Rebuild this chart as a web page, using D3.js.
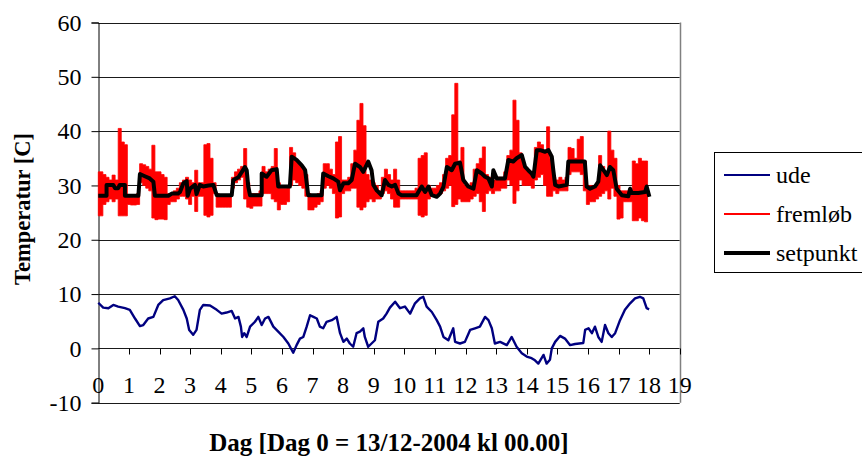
<!DOCTYPE html>
<html><head><meta charset="utf-8">
<script src="https://cdn.jsdelivr.net/npm/d3@7"></script>
<style>body{margin:0;background:#fff}svg{display:block}text{font-family:"Liberation Serif","Times New Roman",serif;fill:#000}</style>
</head><body><svg id="c" width="862" height="457"></svg>
<script>
// ---------- data ----------
const yTicks = [-10, 0, 10, 20, 30, 40, 50, 60];
const xTicks = [0,1,2,3,4,5,6,7,8,9,10,11,12,13,14,15,16,17,18,19];
const seriesNames = ["ude", "fremløb", "setpunkt"];

// ude (outdoor temperature)
const udeDays = [0,0.16,0.33,0.49,0.65,0.87,1.03,1.2,1.36,1.47,1.63,1.8,1.96,2.12,2.34,2.5,2.61,2.78,2.89,2.97,3.1,3.21,3.32,3.43,3.65,3.87,4.03,4.19,4.36,4.47,4.58,4.66,4.7,4.77,4.85,4.96,5.12,5.23,5.34,5.45,5.56,5.72,5.88,6.05,6.21,6.37,6.48,6.59,6.7,6.81,6.92,7.03,7.14,7.24,7.35,7.46,7.63,7.79,7.9,8.01,8.12,8.22,8.33,8.44,8.55,8.66,8.71,8.82,8.93,9.04,9.15,9.31,9.42,9.53,9.7,9.86,10.02,10.19,10.35,10.51,10.62,10.73,10.9,11.06,11.17,11.28,11.44,11.6,11.66,11.82,11.98,12.15,12.31,12.47,12.64,12.75,12.86,12.96,13.13,13.35,13.51,13.67,13.84,14.0,14.16,14.27,14.38,14.55,14.65,14.76,14.82,14.93,15.09,15.25,15.42,15.58,15.85,15.91,16.02,16.13,16.23,16.34,16.45,16.56,16.67,16.78,16.89,17.05,17.21,17.38,17.54,17.7,17.81,17.92,18.0];
const udeVals = [8.4,7.5,7.4,8.0,7.7,7.4,7.1,5.5,4.1,4.3,5.5,5.8,8.0,8.9,9.2,9.6,8.9,7.1,5.5,3.4,2.5,3.4,7.1,8.0,7.9,7.1,6.4,6.6,6.9,5.5,5.8,4.0,2.1,2.8,2.1,4.0,4.9,5.8,4.3,5.5,5.8,4.0,3.1,2.1,0.9,-0.8,0.6,1.8,2.1,4.0,6.1,5.8,5.5,4.0,3.7,4.9,5.2,5.8,2.8,1.2,1.8,0.9,0.3,2.8,3.1,3.7,2.1,0.3,0.9,1.5,4.9,5.5,6.4,7.5,8.6,7.4,7.7,6.4,8.3,9.2,9.5,7.7,6.7,5.2,4.0,2.1,1.5,3.7,1.2,0.9,1.2,3.4,3.7,4.0,5.8,5.2,3.7,0.9,1.2,0.6,2.1,0.3,-0.9,-1.5,-1.8,-2.2,-2.8,-1.2,-2.8,-2.1,0.0,1.2,2.3,1.8,0.6,0.8,1.0,3.4,3.7,2.8,4.0,2.1,1.2,4.3,2.8,2.1,2.8,5.2,7.1,8.3,9.2,9.5,9.2,7.4,7.2];

// fremløb (supply temperature): low / high reading for every 0.1 day, from day 0 to day 18
const fremStep = 0.1;
const fremLo = [24.4,24.4,26.5,27.0,27.5,27.0,27.5,24.4,24.4,24.4,
26.5,26.4,26.4,26.5,30.5,30.0,29.5,29.0,24.0,23.7,
23.8,23.8,23.7,26.5,27.0,27.0,27.5,28.0,28.0,27.5,
26.5,28.0,25.2,28.0,28.0,24.5,24.2,24.5,28.5,26.0,
26.0,26.0,26.0,26.0,29.5,30.5,31.0,31.5,27.5,26.0,
25.8,26.2,26.2,26.2,28.5,28.5,28.5,27.5,27.0,25.5,
26.5,26.5,27.0,30.0,31.0,30.5,30.0,29.5,28.0,25.5,
25.5,26.0,26.5,27.0,29.5,30.0,29.5,28.5,24.0,24.2,
28.5,29.0,29.0,29.5,29.5,26.0,25.5,26.0,27.0,27.5,
27.0,27.5,27.5,28.5,29.0,28.5,27.5,26.0,26.0,27.5,
27.5,27.5,27.5,27.5,27.5,24.5,24.2,24.5,27.5,28.0,
28.0,28.0,28.5,29.0,29.5,30.0,26.1,26.5,27.5,27.0,
27.0,27.0,27.5,28.0,28.5,27.0,25.2,28.5,29.0,28.5,
29.0,29.0,29.5,29.5,31.0,30.0,26.7,29.0,31.0,30.0,
30.0,30.0,29.5,31.0,31.5,32.0,30.0,28.0,28.0,29.0,
28.5,29.0,29.0,29.0,32.0,32.5,32.5,32.5,32.0,29.0,
26.5,27.0,27.0,27.5,28.0,28.5,29.0,27.5,29.5,28.0,
23.8,24.0,27.0,27.0,27.0,23.5,23.5,24.0,23.5,23.3,
28.0];
const fremHi = [32.5,32.5,32.0,31.5,31.0,31.9,31.0,40.5,38.0,37.5,
28.0,27.8,27.8,28.5,34.0,33.8,33.5,33.0,37.4,32.5,
32.5,32.0,31.5,28.5,28.5,29.0,29.5,30.5,31.0,31.5,
31.0,30.5,32.8,30.5,30.5,37.5,37.7,35.0,30.5,28.5,
28.0,28.0,28.0,28.0,31.5,32.5,33.0,33.5,36.8,30.5,
28.5,28.5,28.5,29.0,33.5,32.5,33.0,33.5,36.8,30.5,
29.5,29.5,30.0,37.0,36.0,34.5,34.0,33.0,32.0,28.5,
28.0,28.0,28.5,29.0,34.0,34.0,33.0,32.0,38.0,39.0,
31.0,31.0,31.5,34.0,36.5,42.0,45.1,41.0,32.0,31.0,
30.5,30.0,29.0,31.5,33.0,32.0,31.0,33.0,31.0,29.0,
29.0,29.0,29.0,29.0,29.5,35.0,35.5,36.0,30.0,29.5,
29.5,30.0,30.5,32.0,35.0,35.5,43.0,48.8,34.5,37.0,
30.0,30.0,30.5,33.0,34.0,35.0,37.1,32.0,31.5,31.0,
31.0,31.5,31.5,32.5,35.5,36.5,45.7,42.0,36.0,34.0,
33.0,32.5,32.5,37.0,38.0,37.5,36.5,40.8,35.0,31.5,
31.0,31.5,31.0,31.5,37.0,36.8,35.0,38.5,39.0,34.5,
30.0,30.0,30.0,30.0,35.5,33.5,32.0,40.0,36.5,35.0,
30.0,29.0,29.0,29.0,28.5,34.5,34.0,35.0,34.5,34.5,
29.0];

// setpunkt (set point)
const setDays = [0,0.27,0.27,0.49,0.55,0.65,0.7,0.87,0.87,1.31,1.36,1.52,1.68,1.8,1.85,2.29,2.4,2.61,2.67,2.78,2.89,2.92,3.0,3.16,3.21,3.32,3.43,3.6,3.76,3.87,4.36,4.41,4.58,4.75,4.79,4.85,4.9,4.96,5.34,5.34,5.5,5.66,5.83,5.88,6.26,6.32,6.48,6.65,6.76,6.86,7.3,7.35,7.52,7.68,7.84,7.9,8.01,8.17,8.28,8.39,8.55,8.66,8.82,8.93,8.99,9.1,9.26,9.37,9.48,9.59,9.7,9.81,9.91,10.4,10.46,10.57,10.68,10.79,10.9,11.06,11.17,11.28,11.39,11.55,11.66,11.82,11.93,12.09,12.26,12.37,12.53,12.64,12.75,12.86,12.91,13.02,13.29,13.4,13.56,13.67,13.84,13.95,14.05,14.16,14.22,14.33,14.44,14.6,14.71,14.82,14.87,14.93,15.04,15.31,15.36,15.9,15.96,16.07,16.23,16.34,16.4,16.51,16.62,16.72,16.83,16.94,17.11,17.32,17.38,17.43,17.65,17.87,17.92,18.01];
const setVals = [28.1,28.1,30.1,30.1,29.5,29.5,30.1,30.1,28.1,28.1,32.1,31.7,31.3,30.7,28.1,28.1,28.5,28.5,28.8,30.4,30.8,28.1,29.4,30.1,28.4,30.1,29.8,30.0,30.1,28.2,28.2,31.0,31.5,33.0,33.4,32.8,29.8,28.2,28.2,32.2,31.6,32.8,33.0,29.8,29.8,35.3,34.7,33.7,32.8,28.2,28.2,32.2,31.7,31.3,30.7,29.1,30.4,30.4,31.0,34.0,33.4,32.5,34.4,32.8,30.1,29.1,28.2,31.0,30.1,29.8,30.1,28.5,28.2,28.2,28.8,29.8,28.8,29.8,28.2,27.9,28.5,29.8,33.4,32.8,34.0,34.2,31.0,29.8,29.4,32.8,32.2,31.6,31.3,29.8,32.8,31.3,31.3,34.7,34.4,35.0,35.6,33.4,32.8,32.2,31.6,36.5,36.5,36.2,36.5,35.3,32.8,30.1,29.8,30.1,34.4,34.4,29.8,29.4,29.8,30.7,33.7,32.8,31.9,33.4,32.8,29.4,28.2,28.0,29.4,28.6,28.6,28.8,29.8,27.9];

const xTitle = "Dag [Dag 0 = 13/12-2004 kl 00.00]";
const yTitle = "Temperatur [C]";

// ---------- drawing ----------
const svg = d3.select("#c");
const x = d3.scaleLinear().domain([0, 19]).range([98.3, 679.7]);
const y = d3.scaleLinear().domain([-10, 60]).range([402.7, 22.5]);

// gridlines
svg.append("g").selectAll("line").data(yTicks).join("line")
  .attr("x1", x(0)).attr("x2", x(19))
  .attr("y1", d => Math.round(y(d)) + 0.5).attr("y2", d => Math.round(y(d)) + 0.5)
  .attr("stroke", "#1a1a1a").attr("stroke-width", 1);

// right border of plot area
svg.append("line").attr("x1", Math.round(x(19)) + 0.5).attr("x2", Math.round(x(19)) + 0.5)
  .attr("y1", y(60)).attr("y2", y(-10)).attr("stroke", "#808080").attr("stroke-width", 1.5);

// y axis
const yAxis = d3.axisLeft(y).tickValues(yTicks).tickSize(7).tickPadding(10).tickFormat(d => String(d));
const gy = svg.append("g").attr("transform", `translate(${Math.round(x(0)) + 0.5},0)`).call(yAxis);
gy.select(".domain").attr("stroke", "#000");
gy.selectAll(".tick line").attr("stroke", "#000");
gy.selectAll("text").style("font-size", "24px").attr("font-family", "Liberation Serif");

// x axis at y = 0
const y0 = Math.round(y(0)) + 0.5;
svg.append("g").selectAll("line").data(xTicks.slice(1)).join("line")
  .attr("x1", d => Math.round(x(d)) + 0.5).attr("x2", d => Math.round(x(d)) + 0.5)
  .attr("y1", y0).attr("y2", y0 + 6).attr("stroke", "#000");
svg.append("g").selectAll("text").data(xTicks).join("text")
  .attr("x", d => x(d)).attr("y", y0 + 44)
  .attr("text-anchor", "middle").style("font-size", "24px").text(d => String(d));

// fremløb (red)
const fremArea = d3.area()
  .curve(d3.curveStep)
  .x((d, i) => x(i * fremStep))
  .y0((d, i) => y(fremLo[i]))
  .y1((d, i) => y(fremHi[i]));
svg.append("path").datum(fremLo).attr("d", fremArea)
  .attr("fill", "#ff0000").attr("stroke", "#ff0000").attr("stroke-width", 0.8);

// setpunkt (black)
const lineFn = d3.line().x(d => x(d[0])).y(d => y(d[1]));
svg.append("path").datum(setDays.map((d, i) => [d, setVals[i]])).attr("d", lineFn)
  .attr("fill", "none").attr("stroke", "#000").attr("stroke-width", 4).attr("stroke-linejoin", "round");

// ude (blue)
svg.append("path").datum(udeDays.map((d, i) => [d, udeVals[i]])).attr("d", lineFn)
  .attr("fill", "none").attr("stroke", "#000080").attr("stroke-width", 2.4).attr("stroke-linejoin", "round");

// axis titles
svg.append("text").attr("transform", "translate(30,209) rotate(-90)")
  .attr("text-anchor", "middle").style("font-size", "22.5px").style("font-weight", "bold").text(yTitle);
svg.append("text").attr("x", 389).attr("y", 451)
  .attr("text-anchor", "middle").style("font-size", "25px").style("font-weight", "bold").text(xTitle);

// legend
const lg = svg.append("g");
lg.append("rect").attr("x", 714.5).attr("y", 152.5).attr("width", 160).attr("height", 120)
  .attr("fill", "#fff").attr("stroke", "#000").attr("stroke-width", 1);
const legendColors = ["#000080", "#ff0000", "#000"];
const legendWidths = [2, 2, 4];
seriesNames.forEach((name, i) => {
  const ly = 175 + i * 39;
  lg.append("line").attr("x1", 724).attr("x2", 770).attr("y1", ly).attr("y2", ly)
    .attr("stroke", legendColors[i]).attr("stroke-width", legendWidths[i]);
  lg.append("text").attr("x", 776).attr("y", ly + 8).style("font-size", "24px").text(name);
});
</script>
</body></html>
